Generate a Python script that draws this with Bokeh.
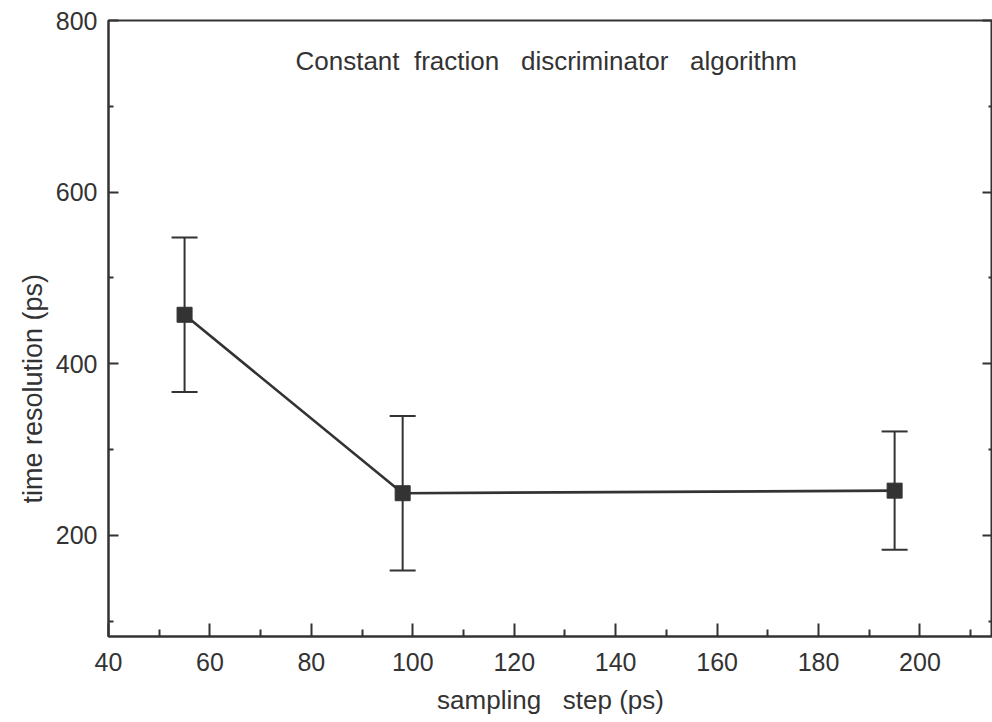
from bokeh.plotting import figure
from bokeh.models import (ColumnDataSource, LinearAxis, Whisker, TeeHead, Label, Title,
                          FixedTicker, Range1d, CustomJSTickFormatter)
from bokeh.embed import file_html
from bokeh.resources import INLINE

# data
sampling_step = [55, 98, 195]
time_resolution = [457, 249, 252]
error = [90, 90, 69]

x_ticks = [40, 60, 80, 100, 120, 140, 160, 180, 200]
x_minor = [50, 70, 90, 110, 130, 150, 170, 190, 210]
y_ticks = [200, 400, 600, 800]
y_minor = [100, 300, 500, 700]

NB = "\u00a0"
title_text = "Constant" + NB + " fraction" + NB + NB + " discriminator" + NB + NB + " algorithm"
x_label = "sampling" + NB + NB + " step (ps)"
y_label = "time resolution (ps)"

INK = "#333333"
FONT = "Liberation Sans"

lower = [v - e for v, e in zip(time_resolution, error)]
upper = [v + e for v, e in zip(time_resolution, error)]
src = ColumnDataSource(dict(x=sampling_step, y=time_resolution, lo=lower, hi=upper))

p = figure(width=992, height=722, output_backend="svg", toolbar_location=None,
           x_range=Range1d(40, 214.3), y_range=Range1d(82, 800),
           min_border_left=108, min_border_right=0, min_border_top=20,
           min_border_bottom=86, x_axis_location=None, y_axis_location=None)
p.background_fill_color = "white"
p.border_fill_color = "white"
p.outline_line_color = INK
p.outline_line_width = 2
p.xgrid.visible = False
p.ygrid.visible = False


def style_axis(ax, major, minor):
    ax.ticker = FixedTicker(ticks=major, minor_ticks=minor)
    ax.axis_line_color = INK
    ax.axis_line_width = 2
    ax.major_tick_line_color = INK
    ax.minor_tick_line_color = INK
    ax.major_tick_line_width = 2
    ax.minor_tick_line_width = 2
    ax.major_tick_out = 0
    ax.minor_tick_out = 0
    ax.major_label_text_font = FONT
    ax.major_label_text_color = INK
    ax.major_label_text_font_size = "25px"
    ax.axis_label_text_font = FONT
    ax.axis_label_text_font_style = "normal"
    ax.axis_label_text_color = INK
    ax.axis_label_text_font_size = "26px"


xb = LinearAxis(axis_label=x_label)
style_axis(xb, x_ticks, x_minor)
xb.major_tick_in = 13
xb.minor_tick_in = 7
xb.major_label_standoff = 16
xb.axis_label_standoff = 11
p.add_layout(xb, "below")

yl = LinearAxis()
style_axis(yl, y_ticks, y_minor)
yl.major_tick_in = 10
yl.minor_tick_in = 5
yl.major_label_standoff = 11
p.add_layout(yl, "left")

yr = LinearAxis()
style_axis(yr, y_ticks, y_minor)
yr.major_tick_in = 10
yr.minor_tick_in = 4
yr.major_label_standoff = 0
yr.formatter = CustomJSTickFormatter(code="return ''")
p.add_layout(yr, "right")

ytitle = Title(text=y_label, align="left", offset=133, text_font=FONT,
               text_font_size="27px", text_font_style="normal", text_color=INK,
               standoff=9)
p.add_layout(ytitle, "left")

p.line("x", "y", source=src, line_color=INK, line_width=2.6)
p.add_layout(Whisker(source=src, base="x", lower="lo", upper="hi",
                     line_color=INK, line_width=2,
                     upper_head=TeeHead(size=26, line_color=INK, line_width=2),
                     lower_head=TeeHead(size=26, line_color=INK, line_width=2)))
p.scatter("x", "y", source=src, marker="square", size=15,
          fill_color=INK, line_color=INK)

p.add_layout(Label(x=126.3, y=753, text=title_text, text_align="center",
                   text_baseline="middle", text_font=FONT, text_font_size="26px",
                   text_color=INK))

open("out.html", "w").write(file_html(p, INLINE))
